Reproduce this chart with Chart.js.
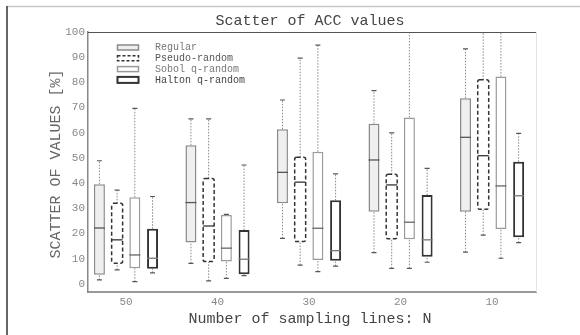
<!DOCTYPE html>
<html>
<head>
<meta charset="utf-8">
<script src="https://cdn.jsdelivr.net/npm/chart.js@4/dist/chart.umd.min.js"></script>
<style>
  html, body { margin: 0; padding: 0; background: #fff; }
  #wrap { position: relative; width: 580px; height: 335px; }
</style>
</head>
<body>
<div id="wrap"><canvas id="chart"></canvas></div>
<script>
// x categories (number of sampling lines)
const categories = ['50', '40', '30', '20', '10'];
const seriesNames = ['Regular', 'Pseudo-random', 'Sobol q-random', 'Halton q-random'];
const yTicks = [0, 10, 20, 30, 40, 50, 60, 70, 80, 90, 100];

// per category: [whisker low, q1, median, q3, whisker high]
const regular = [
  [1.6, 3.6, 22.2, 39.6, 48.9],
  [8.2, 16.4, 32.3, 55.0, 65.5],
  [18.1, 32.0, 44.3, 61.4, 73.0],
  [12.4, 28.7, 49.2, 63.6, 76.7],
  [12.6, 28.7, 58.2, 73.7, 93.3]
];
const pseudo = [
  [5.6, 8.2, 17.5, 32.0, 37.2],
  [1.2, 8.9, 23.0, 41.9, 65.5],
  [7.5, 16.8, 40.4, 50.3, 89.6],
  [6.2, 17.9, 39.3, 43.5, 60.0],
  [19.4, 29.6, 50.9, 81.0, 108]
];
const sobol = [
  [0.9, 6.2, 11.5, 34.4, 69.7],
  [2.2, 8.9, 14.2, 27.4, 27.6],
  [4.9, 9.5, 22.1, 52.5, 94.8],
  [6.2, 17.7, 24.5, 66.1, 108],
  [10.2, 21.8, 38.9, 82.3, 108]
];
const halton = [
  [4.4, 6.0, 10.2, 21.9, 34.7],
  [3.3, 3.8, 9.8, 21.4, 47.2],
  [7.1, 9.2, 13.2, 33.2, 43.7],
  [8.6, 10.8, 17.5, 35.3, 45.9],
  [16.4, 18.5, 35.0, 48.5, 59.8]
];
const allStats = [regular, pseudo, sobol, halton];

// look of each series
const styles = [
  { fill: '#efefef', stroke: '#8a8a8a', width: 1.5, dash: null, median: '#555' },
  { fill: '#ffffff', stroke: '#333333', width: 1.5, dash: [4, 2.5], median: '#333' },
  { fill: '#ffffff', stroke: '#9a9a9a', width: 1.5, dash: null, median: '#666' },
  { fill: '#ffffff', stroke: '#333333', width: 2, dash: null, median: '#777' }
];

const MONO = '"Liberation Mono", "DejaVu Sans Mono", monospace';

const datasets = allStats.map((stats, s) => ({
  label: seriesNames[s],
  data: stats.map((r, i) => ({ x: i + 1, y: [r[1], r[3]] })),
  backgroundColor: styles[s].fill,
  borderColor: styles[s].stroke,
  borderWidth: styles[s].dash ? 0 : styles[s].width,
  borderSkipped: false,
  categoryPercentage: 0.774,
  barPercentage: 0.62
}));

const boxPlugin = {
  id: 'boxplot',
  beforeDraw(chart) {
    const ctx = chart.ctx;
    ctx.save();
    ctx.fillStyle = '#fff';
    ctx.fillRect(0, 0, chart.width, chart.height);
    // figure frame
    ctx.strokeStyle = '#c8c8c8';
    ctx.lineWidth = 1.5;
    ctx.beginPath(); ctx.moveTo(6, 6.5); ctx.lineTo(chart.width, 6.5); ctx.stroke();
    ctx.strokeStyle = '#666';
    ctx.lineWidth = 2;
    ctx.beginPath(); ctx.moveTo(7, 6); ctx.lineTo(7, chart.height); ctx.stroke();
    ctx.restore();
  },
  beforeDatasetsDraw(chart) {
    const ctx = chart.ctx, y = chart.scales.y, a = chart.chartArea;
    ctx.save();
    ctx.beginPath(); ctx.rect(a.left, a.top, a.right - a.left, a.bottom - a.top); ctx.clip();
    allStats.forEach((stats, s) => {
      chart.getDatasetMeta(s).data.forEach((el, i) => {
        const p = el.getProps(['x'], true);
        const r = stats[i];
        const yl = y.getPixelForValue(r[0]), y1 = y.getPixelForValue(r[1]);
        const y3 = y.getPixelForValue(r[3]), yh = y.getPixelForValue(r[4]);
        ctx.strokeStyle = '#888';
        ctx.lineWidth = 1;
        ctx.setLineDash([1.5, 1.5]);
        ctx.beginPath();
        ctx.moveTo(p.x, yl); ctx.lineTo(p.x, y1);
        ctx.moveTo(p.x, y3); ctx.lineTo(p.x, yh);
        ctx.stroke();
        ctx.setLineDash([]);
        ctx.strokeStyle = '#555';
        ctx.lineWidth = 1.2;
        ctx.beginPath();
        ctx.moveTo(p.x - 2.5, yl); ctx.lineTo(p.x + 2.5, yl);
        ctx.moveTo(p.x - 2.5, yh); ctx.lineTo(p.x + 2.5, yh);
        ctx.stroke();
      });
    });
    ctx.restore();
  },
  afterDatasetsDraw(chart) {
    const ctx = chart.ctx, y = chart.scales.y, a = chart.chartArea;
    ctx.save();
    allStats.forEach((stats, s) => {
      const st = styles[s];
      chart.getDatasetMeta(s).data.forEach((el, i) => {
        const p = el.getProps(['x', 'width'], true);
        const r = stats[i];
        const x0 = p.x - p.width / 2, x1 = p.x + p.width / 2;
        const y1 = y.getPixelForValue(r[1]), y3 = y.getPixelForValue(r[3]);
        if (st.dash) {
          ctx.strokeStyle = st.stroke;
          ctx.lineWidth = st.width;
          ctx.setLineDash(st.dash);
          ctx.beginPath();
          ctx.roundRect(x0, y3, x1 - x0, y1 - y3, 2);
          ctx.stroke();
          ctx.setLineDash([]);
        }
        const ym = y.getPixelForValue(r[2]);
        ctx.strokeStyle = st.median;
        ctx.lineWidth = 1.3;
        ctx.beginPath(); ctx.moveTo(x0, ym); ctx.lineTo(x1, ym); ctx.stroke();
      });
    });
    // top and right edges of the plot box
    ctx.strokeStyle = '#555';
    ctx.lineWidth = 1;
    ctx.beginPath(); ctx.moveTo(a.left, a.top + 0.5); ctx.lineTo(a.right, a.top + 0.5); ctx.stroke();
    ctx.strokeStyle = '#e4e4e4';
    ctx.beginPath(); ctx.moveTo(a.right + 0.5, a.top); ctx.lineTo(a.right + 0.5, a.bottom); ctx.stroke();
    ctx.restore();
  },
  afterDraw(chart) {
    const ctx = chart.ctx, a = chart.chartArea;
    const cx = (a.left + a.right) / 2 - 2;
    ctx.save();
    ctx.textAlign = 'center';
    ctx.textBaseline = 'middle';
    ctx.fillStyle = '#444';
    ctx.font = '15px ' + MONO;
    ctx.fillText('Scatter of ACC values', cx, 21);
    ctx.fillText('Number of sampling lines: N', cx, 319);
    ctx.fillStyle = '#666';
    ctx.translate(56, 164);
    ctx.rotate(-Math.PI / 2);
    ctx.fillText('SCATTER OF VALUES [%]', 0, 0);
    ctx.restore();

    // legend
    ctx.save();
    ctx.font = '10px ' + MONO;
    ctx.textBaseline = 'middle';
    ctx.textAlign = 'left';
    const textColors = ['#777', '#555', '#777', '#444'];
    seriesNames.forEach((name, s) => {
      const st = styles[s];
      const yc = 47.5 + s * 10.8;
      const h = s === 3 ? 6 : 5;
      ctx.fillStyle = st.fill;
      ctx.fillRect(117.5, yc - h / 2, 21, h);
      ctx.strokeStyle = st.stroke;
      ctx.lineWidth = st.width;
      ctx.setLineDash(st.dash ? [3, 2] : []);
      ctx.strokeRect(117.5, yc - h / 2, 21, h);
      ctx.setLineDash([]);
      ctx.fillStyle = textColors[s];
      ctx.fillText(name, 155, yc);
    });
    ctx.restore();
  }
};

new Chart(document.getElementById('chart'), {
  type: 'bar',
  data: { datasets },
  plugins: [boxPlugin],
  options: {
    responsive: true,
    maintainAspectRatio: false,
    devicePixelRatio: 1,
    animation: false,
    layout: { padding: { top: 32, right: 44, left: 0, bottom: 0 } },
    plugins: { legend: { display: false }, tooltip: { enabled: false } },
    scales: {
      x: {
        type: 'linear',
        min: 0.585,
        max: 5.48,
        offset: false,
        afterBuildTicks: s => { s.ticks = categories.map((c, i) => ({ value: i + 1 })); },
        afterFit: s => { s.height = 43; },
        grid: { display: false, drawTicks: false },
        border: { display: true, color: '#999', width: 2 },
        ticks: {
          padding: 3,
          color: '#888',
          font: { family: MONO, size: 11 },
          callback: (v, i) => categories[i]
        }
      },
      y: {
        min: -3.2,
        max: 100,
        afterBuildTicks: s => { s.ticks = yTicks.map(v => ({ value: v })); },
        afterFit: s => { s.width = 88; },
        grid: { display: false, drawTicks: false },
        border: { display: true, color: '#888', width: 1.5 },
        ticks: {
          padding: 3,
          color: '#888',
          font: { family: MONO, size: 11 }
        }
      }
    }
  }
});
</script>
</body>
</html>
